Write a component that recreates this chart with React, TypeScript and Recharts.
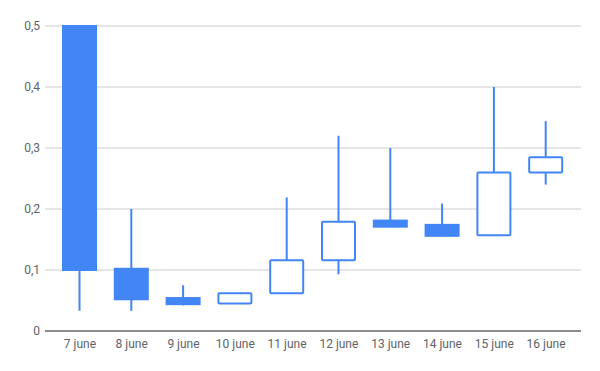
import { BarChart, Bar, XAxis, YAxis, CartesianGrid } from 'recharts';

const days = ['7 june', '8 june', '9 june', '10 june', '11 june', '12 june', '13 june', '14 june', '15 june', '16 june'];
const opens = [0.5, 0.102, 0.054, 0.045, 0.062, 0.116, 0.181, 0.174, 0.157, 0.26];
const closes = [0.1, 0.052, 0.044, 0.062, 0.116, 0.179, 0.171, 0.156, 0.26, 0.285];
const highs = [0.5, 0.2, 0.075, 0.062, 0.219, 0.32, 0.3, 0.209, 0.4, 0.344];
const lows = [0.033, 0.033, 0.042, 0.045, 0.062, 0.093, 0.171, 0.155, 0.157, 0.24];
const yTicks = [0, 0.1, 0.2, 0.3, 0.4, 0.5];

const BLUE = '#4285f4';

const data = days.map((day, i) => ({
  day,
  open: opens[i],
  close: closes[i],
  high: highs[i],
  low: lows[i],
  range: [lows[i], highs[i]],
}));

const Candle = (props: any) => {
  const { x, y, width, height, payload } = props;
  const { open, close, high, low } = payload;
  const h = Math.abs(height);
  const top = height >= 0 ? y : y + height;
  const k = high - low === 0 ? 0 : h / (high - low);
  const toY = (v: number) => top + (high - v) * k;
  const cx = x + width / 2;
  const rising = close > open;
  const bTop = toY(Math.max(open, close));
  const bBot = toY(Math.min(open, close));
  return (
    <g>
      <line x1={cx} x2={cx} y1={toY(high)} y2={toY(low)} stroke={BLUE} strokeWidth={2} />
      {rising ? (
        <rect x={x + 1} y={bTop} width={width - 2} height={Math.max(bBot - bTop, 1)} fill="#fff" stroke={BLUE} strokeWidth={2} rx={1} />
      ) : (
        <rect x={x} y={bTop - 1} width={width} height={Math.max(bBot - bTop, 1) + 2} fill={BLUE} />
      )}
    </g>
  );
};

const fmt = (v: number) => (v === 0 ? '0' : String(v).replace('.', ','));

export default function App() {
  return (
    <div style={{ position: 'absolute', left: 0, top: 0, background: '#fff' }}>
      <BarChart
        width={600}
        height={371}
        data={data}
        margin={{ top: 26, right: 19, left: 0, bottom: 0 }}
        style={{ fontFamily: 'Roboto' }}
      >
        <CartesianGrid vertical={false} stroke="#cccccc" />
        <XAxis
          dataKey="day"
          padding={{ left: 9, right: 9 }}
          height={40}
          tickLine={false}
          tickSize={6}
          axisLine={{ stroke: '#333333' }}
          tick={{ fontSize: 12, fill: '#5f6368' }}
          interval={0}
        />
        <YAxis
          domain={[0, 0.5]}
          ticks={yTicks}
          width={45}
          tickLine={false}
          axisLine={false}
          tickSize={3}
          tickMargin={2}
          tickFormatter={fmt}
          tick={{ fontSize: 12, fill: '#5f6368' }}
        />
        <Bar dataKey="range" barSize={35} shape={<Candle />} isAnimationActive={false} />
      </BarChart>
    </div>
  );
}
